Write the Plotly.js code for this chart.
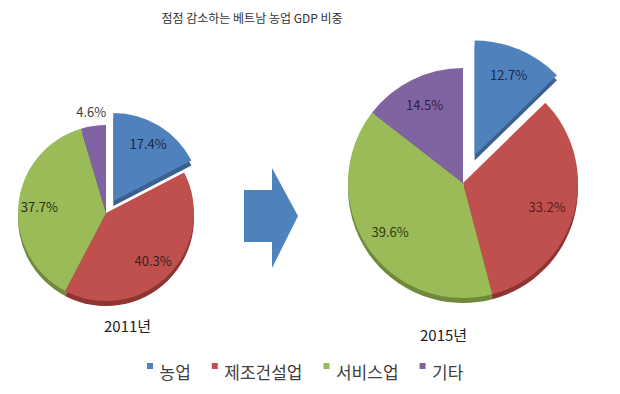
<!DOCTYPE html>
<html><head><meta charset="utf-8">
<script src="https://cdn.plot.ly/plotly-3.0.1.min.js"></script>
<style>html,body{margin:0;padding:0;background:#fff}#chart{width:620px;height:394px}</style>
</head><body><div id="chart"></div>
<script>
const categories = ['농업', '제조건설업', '서비스업', '기타'];
const values2011 = [17.4, 40.3, 37.7, 4.6];
const values2015 = [12.7, 33.2, 39.6, 14.5];
const yearLabels = ['2011년', '2015년'];
const chartTitle = '점점 감소하는 베트남 농업 GDP 비중';

const colors = ['#4F81BD', '#C0504D', '#9BBB59', '#8064A2'];
const shadowColors = ['#3A6092', '#8E3431', '#6E8A3A', '#5B4778'];
const textColors2011 = ['#1B2A45', '#3A1E1D', '#26330F', '#404040'];
const textColors2015 = ['#1B2A45', '#5A1A18', '#2C3D0E', '#2E2345'];
const FONT = '"Noto Sans CJK KR", "Noto Sans", sans-serif';

const W = 620, H = 394;
function dom(cx, cy, half) {
  return {x: [(cx - half) / W, (cx + half) / W], y: [1 - (cy + half) / H, 1 - (cy - half) / H]};
}
const pull2011 = [0.16, 0, 0, 0];
const pull2015 = [0.26, 0, 0, 0];
const d2011 = dom(106, 213, 88 * 1.16);
const d2015 = dom(463, 183, 115 * 1.26);
const sh = 5 / H;
function shift(d) { return {x: d.x, y: [d.y[0] - sh, d.y[1] - sh]}; }

const common = {type: 'pie', sort: false, direction: 'clockwise', rotation: 0, hoverinfo: 'none'};

const data = [
  Object.assign({}, common, {labels: categories, values: values2011, pull: pull2011, domain: shift(d2011),
    marker: {colors: shadowColors, line: {width: 0}}, textinfo: 'none', showlegend: false}),
  Object.assign({}, common, {labels: categories, values: values2015, pull: pull2015, domain: shift(d2015),
    marker: {colors: shadowColors, line: {width: 0}}, textinfo: 'none', showlegend: false}),
  Object.assign({}, common, {labels: categories, values: values2011, pull: pull2011, domain: d2011,
    marker: {colors: colors, line: {width: 0}},
    texttemplate: '%{value:.1f}%', textposition: ['inside', 'inside', 'inside', 'outside'],
    insidetextorientation: 'horizontal',
    textfont: {family: FONT, size: 13, color: textColors2011}}),
  Object.assign({}, common, {labels: categories, values: values2015, pull: pull2015, domain: d2015,
    marker: {colors: colors, line: {width: 0}},
    texttemplate: '%{value:.1f}%', textposition: 'inside',
    insidetextorientation: 'horizontal',
    textfont: {family: FONT, size: 13, color: textColors2015}, showlegend: false})
];

function px(x) { return x / W; }
function py(y) { return 1 - y / H; }
const arrowPath = 'M' + px(244) + ',' + py(190) + ' L' + px(272) + ',' + py(190) + ' L' + px(272) + ',' + py(168) +
  ' L' + px(298) + ',' + py(216) + ' L' + px(272) + ',' + py(268) + ' L' + px(272) + ',' + py(242) +
  ' L' + px(244) + ',' + py(242) + ' Z';

const layout = {
  width: W, height: H,
  margin: {l: 0, r: 0, t: 0, b: 0},
  paper_bgcolor: '#fff',
  font: {family: FONT, color: '#333'},
  title: {text: chartTitle, font: {family: FONT, size: 12, color: '#333'}, x: 252 / W, xanchor: 'center',
    y: 1 - 19 / H, yref: 'container', yanchor: 'middle'},
  showlegend: true,
  legend: {orientation: 'h', x: 0.5, xanchor: 'center', y: 1 - 371 / H, yanchor: 'middle',
    font: {family: FONT, size: 17, color: '#404040'}, traceorder: 'normal', itemwidth: 30},
  annotations: [
    {text: yearLabels[0], x: px(102), y: py(325), xref: 'paper', yref: 'paper', showarrow: false,
      yanchor: 'middle', font: {family: FONT, size: 15, color: '#222'}},
    {text: yearLabels[1], x: px(469), y: py(334), xref: 'paper', yref: 'paper', showarrow: false,
      yanchor: 'middle', font: {family: FONT, size: 15, color: '#222'}}
  ],
  shapes: [{type: 'path', xref: 'paper', yref: 'paper', path: arrowPath, fillcolor: '#4F81BD', line: {width: 0}}]
};

Plotly.newPlot('chart', data, layout, {displayModeBar: false, staticPlot: true}).then(function (gd) {
  // push slice labels further out along each slice's bisector (like the reference)
  try {
    const K_IN = 0.76, K_OUT = 1.16;
    gd.querySelectorAll('.pielayer > g.trace').forEach(function (tg) {
      const cd = tg.__data__;
      if (!cd || !cd[0]) return;
      const cd0 = cd[0], trace = cd0.trace;
      tg.querySelectorAll('g.slice').forEach(function (sl) {
        const cdi = sl.__data__;
        const text = sl.querySelector('g.slicetext text');
        if (!cdi || !text || !cdi.pxmid) return;
        const tp = Array.isArray(trace.textposition) ? trace.textposition[cdi.i] : trace.textposition;
        const k = tp === 'outside' ? K_OUT : K_IN;
        const cx = (cdi.cxFinal !== undefined) ? cdi.cxFinal : cd0.cx;
        const cy = (cdi.cyFinal !== undefined) ? cdi.cyFinal : cd0.cy;
        const tx = cx + cdi.pxmid[0] * k, ty = cy + cdi.pxmid[1] * k;
        const bb = text.getBBox();
        text.setAttribute('transform', 'translate(' + (tx - bb.x - bb.width / 2) + ',' + (ty - bb.y - bb.height / 2) + ')');
        const line = sl.querySelector('path.textline');
        if (line) line.remove();
      });
    });
  } catch (e) { console.log(e); }
  // compact legend: small squares aligned with text tops, tight spacing
  try {
    const leg = gd.querySelector('g.legend');
    const items = leg.querySelectorAll('g.traces');
    let x = 0;
    items.forEach(function (t) {
      const txt = t.querySelector('text.legendtext');
      txt.setAttribute('x', 12.5);
      const bb = txt.getBBox();
      const sq = t.querySelector('g.legendpoints path');
      if (sq) sq.setAttribute('transform', 'translate(3,' + (bb.y + bb.height / 2 - 5) + ') scale(0.5)');
      const m = /translate\(([-\d.e]+)[ ,]+([-\d.e]+)\)/.exec(t.getAttribute('transform') || '');
      const y0 = m ? parseFloat(m[2]) : 0;
      t.setAttribute('transform', 'translate(' + x + ',' + y0 + ')');
      x += 12.5 + txt.getComputedTextLength() + 21;
    });
    const first = items[0].querySelector('g.legendpoints path').getBoundingClientRect();
    const ftxt = items[0].querySelector('text.legendtext').getBoundingClientRect();
    const lm = /translate\(([-\d.e]+)[ ,]+([-\d.e]+)\)/.exec(leg.getAttribute('transform') || '');
    const lx = lm ? parseFloat(lm[1]) : 0, ly = lm ? parseFloat(lm[2]) : 0;
    const dx = 147 - first.left, dy = 371 - (ftxt.top + ftxt.height / 2);
    leg.setAttribute('transform', 'translate(' + (lx + dx) + ',' + (ly + dy) + ')');
    const bg = leg.querySelector('rect.bg');
    if (bg) bg.setAttribute('width', x + 20);
  } catch (e) { console.log(e); }
});
</script></body></html>
